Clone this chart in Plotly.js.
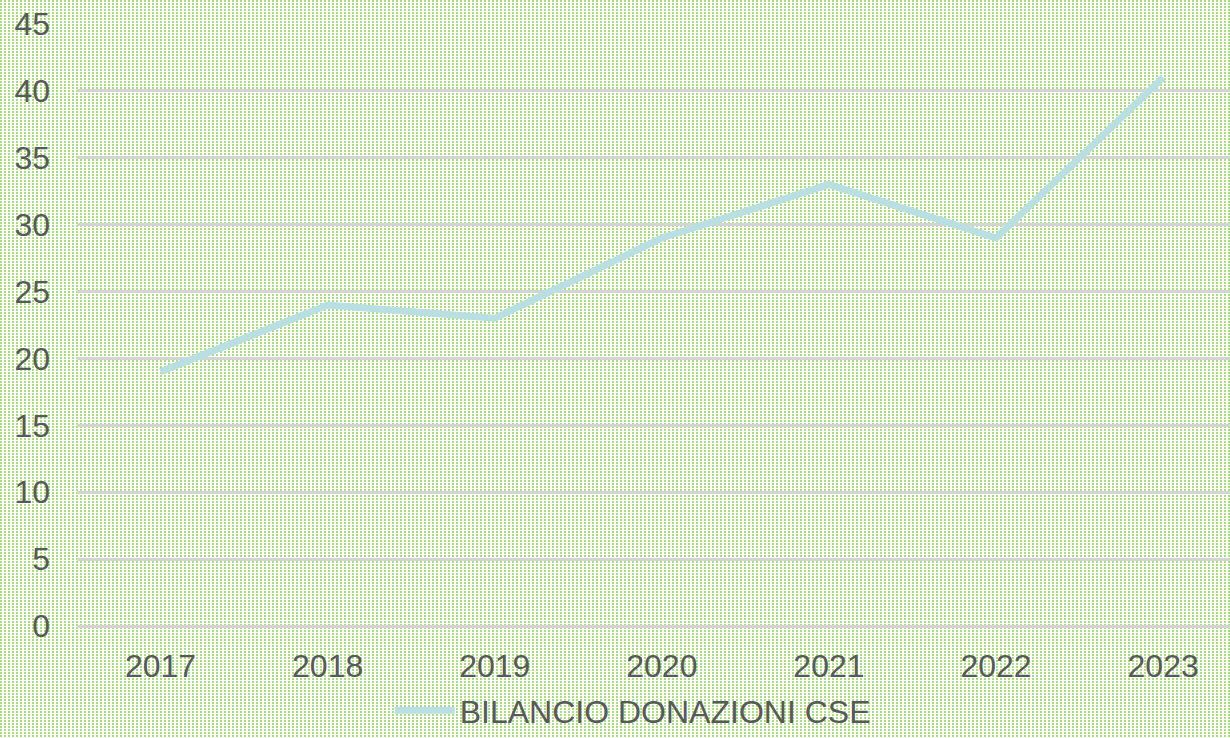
<!DOCTYPE html>
<html>
<head>
<meta charset="utf-8">
<script src="https://cdn.plot.ly/plotly-3.0.1.min.js"></script>
<style>
html,body{margin:0;padding:0;}
#bg{position:absolute;left:0;top:0;width:1230px;height:738px;
background-color:#a8df7c;
background-image:
 linear-gradient(90deg, rgba(255,255,255,0) 2px, #ffffff 2px),
 linear-gradient(180deg, rgba(255,255,255,0) 2px, #ffffff 2px);
background-size:4px 4px, 4px 3px;}
#chart{position:absolute;left:0;top:0;width:1230px;height:738px;}
</style>
</head>
<body>
<div id="bg"></div>
<div id="chart"></div>
<script>
const years = ['2017','2018','2019','2020','2021','2022','2023'];
const values = [19, 24, 23, 29, 33, 29, 41];
const seriesName = 'BILANCIO DONAZIONI CSE';

Plotly.newPlot('chart', [{
  x: years, y: values, type: 'scatter', mode: 'lines', name: seriesName,
  line: {color: '#b9dfe2', width: 7}
}], {
  width: 1230, height: 738,
  paper_bgcolor: 'rgba(0,0,0,0)', plot_bgcolor: 'rgba(0,0,0,0)',
  margin: {l: 77, r: 0, t: 24, b: 112},
  font: {family: 'Liberation Sans, Arial, sans-serif', color: '#595959', size: 32},
  showlegend: true,
  legend: {orientation: 'h', x: 0.482, xanchor: 'center', xref: 'paper', yref: 'container', y: -0.014, yanchor: 'bottom', font: {size: 32, color: '#595959'}, itemwidth: 60},
  xaxis: {type: 'category', range: [-0.5, 6.4], showgrid: false, zeroline: false, showline: false, ticks: '', tickfont: {size: 32}, ticklabelstandoff: 18, automargin: false},
  yaxis: {range: [0, 45], dtick: 5, showgrid: true, gridcolor: '#d4d4d4', gridwidth: 3, zeroline: true, zerolinecolor: '#d4d4d4', zerolinewidth: 3, showline: false, ticks: '', tickfont: {size: 32}, ticklabelstandoff: 26, fixedrange: true, automargin: false}
}, {displayModeBar: false, staticPlot: true});
</script>
</body>
</html>
